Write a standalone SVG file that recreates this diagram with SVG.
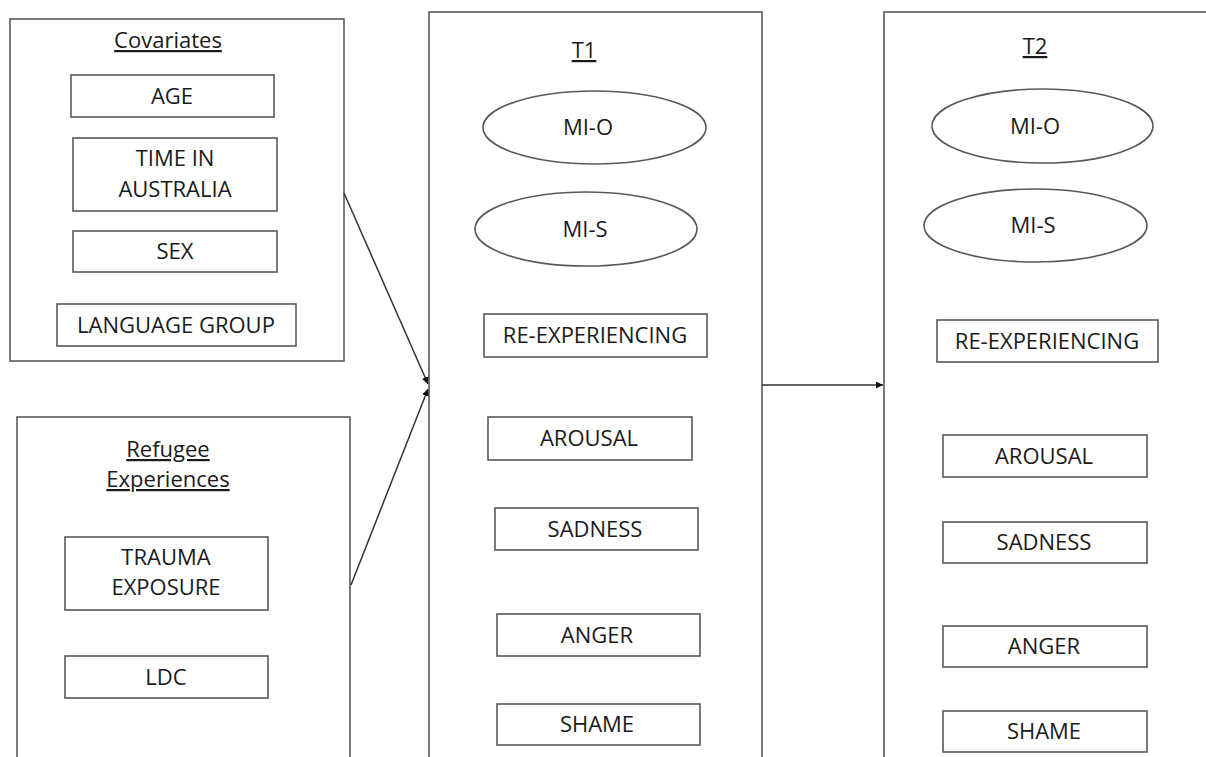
<svg xmlns="http://www.w3.org/2000/svg" width="1206" height="757" viewBox="0 0 1206 757">
<style>
  .frame{fill:none;stroke:#595959;stroke-width:1.6}
  .box{fill:#fff;stroke:#595959;stroke-width:1.6}
  .lbl{font-family:"Open Sans","Liberation Sans",sans-serif;font-size:22px;fill:#1a1a1a;text-anchor:middle}
  .ttl{font-family:"Open Sans","Liberation Sans",sans-serif;font-size:22px;fill:#1a1a1a;text-anchor:middle;text-decoration:underline}
  .conn{fill:none;stroke:#333;stroke-width:1.5}
</style>
<defs>
  <marker id="ah" viewBox="0 0 10 10" refX="10" refY="5" markerWidth="7" markerHeight="7" markerUnits="userSpaceOnUse" orient="auto">
    <path d="M0,0 L10,5 L0,10 z" fill="#111"/>
  </marker>
</defs>
<rect width="1206" height="757" fill="#fff"/>

<g id="covariates">
  <rect class="frame" x="10" y="19" width="334" height="342"/>
  <text class="ttl" x="168" y="48">Covariates</text>
  <g id="age"><rect class="box" x="71" y="75" width="203" height="42"/><text class="lbl" x="172" y="104">AGE</text></g>
  <g id="time"><rect class="box" x="73" y="138" width="204" height="73"/><text class="lbl" x="175" y="166">TIME IN</text><text class="lbl" x="175" y="197">AUSTRALIA</text></g>
  <g id="sex"><rect class="box" x="73" y="231" width="204" height="41"/><text class="lbl" x="175" y="259">SEX</text></g>
  <g id="language"><rect class="box" x="57" y="304" width="239" height="42"/><text class="lbl" x="176" y="333">LANGUAGE GROUP</text></g>
</g>

<g id="refugee">
  <rect class="frame" x="17" y="417" width="333" height="360"/>
  <text class="ttl" x="168" y="457">Refugee</text>
  <text class="ttl" x="168" y="487">Experiences</text>
  <g id="trauma"><rect class="box" x="65" y="537" width="203" height="73"/><text class="lbl" x="166" y="565">TRAUMA</text><text class="lbl" x="166" y="595">EXPOSURE</text></g>
  <g id="ldc"><rect class="box" x="65" y="656" width="203" height="42"/><text class="lbl" x="166" y="685">LDC</text></g>
</g>

<g id="t1">
  <rect class="frame" x="429" y="12" width="333" height="770"/>
  <text class="ttl" x="584" y="58">T1</text>
  <g id="t1-mio"><ellipse class="box" cx="594.5" cy="127.5" rx="111.5" ry="36.5"/><text class="lbl" x="588" y="135">MI-O</text></g>
  <g id="t1-mis"><ellipse class="box" cx="586" cy="229" rx="111" ry="37"/><text class="lbl" x="585" y="237">MI-S</text></g>
  <g id="t1-reexp"><rect class="box" x="484" y="314" width="223" height="43"/><text class="lbl" x="595" y="343">RE-EXPERIENCING</text></g>
  <g id="t1-arousal"><rect class="box" x="488" y="417" width="204" height="43"/><text class="lbl" x="589" y="446">AROUSAL</text></g>
  <g id="t1-sadness"><rect class="box" x="495" y="508" width="203" height="42"/><text class="lbl" x="595" y="537">SADNESS</text></g>
  <g id="t1-anger"><rect class="box" x="497" y="614" width="203" height="42"/><text class="lbl" x="597" y="643">ANGER</text></g>
  <g id="t1-shame"><rect class="box" x="497" y="704" width="203" height="41"/><text class="lbl" x="597" y="732">SHAME</text></g>
</g>

<g id="t2">
  <rect class="frame" x="884" y="12" width="340" height="770"/>
  <text class="ttl" x="1035" y="54">T2</text>
  <g id="t2-mio"><ellipse class="box" cx="1042.5" cy="126" rx="110.5" ry="37"/><text class="lbl" x="1035" y="134">MI-O</text></g>
  <g id="t2-mis"><ellipse class="box" cx="1035.5" cy="225.5" rx="111.5" ry="36.5"/><text class="lbl" x="1033" y="233">MI-S</text></g>
  <g id="t2-reexp"><rect class="box" x="937" y="320" width="221" height="42"/><text class="lbl" x="1047" y="349">RE-EXPERIENCING</text></g>
  <g id="t2-arousal"><rect class="box" x="943" y="435" width="204" height="42"/><text class="lbl" x="1044" y="464">AROUSAL</text></g>
  <g id="t2-sadness"><rect class="box" x="943" y="522" width="204" height="41"/><text class="lbl" x="1044" y="550">SADNESS</text></g>
  <g id="t2-anger"><rect class="box" x="943" y="626" width="204" height="41"/><text class="lbl" x="1044" y="654">ANGER</text></g>
  <g id="t2-shame"><rect class="box" x="943" y="711" width="204" height="41"/><text class="lbl" x="1044" y="739">SHAME</text></g>
</g>

<g id="connectors">
  <line class="conn" x1="344" y1="193" x2="428" y2="384" marker-end="url(#ah)"/>
  <line class="conn" x1="351" y1="585" x2="428" y2="389" marker-end="url(#ah)"/>
  <line class="conn" x1="762" y1="385" x2="883" y2="385" marker-end="url(#ah)"/>
</g>
</svg>
